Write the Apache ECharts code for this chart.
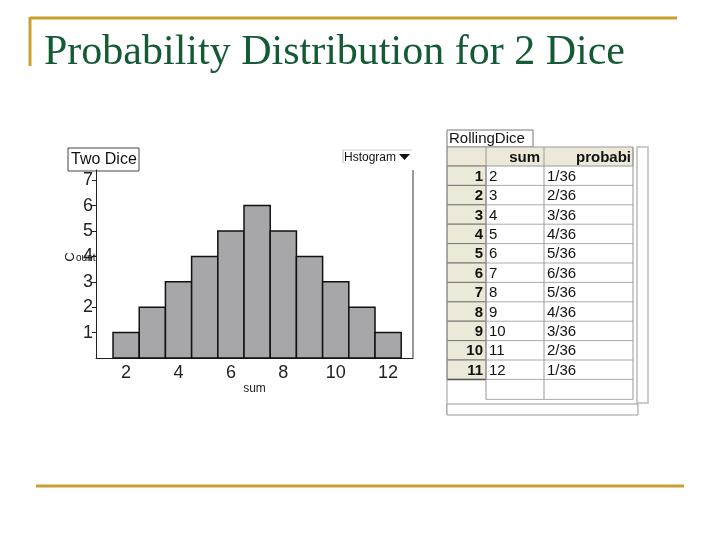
<!DOCTYPE html>
<html><head><meta charset="utf-8">
<script src="https://cdn.jsdelivr.net/npm/echarts@6/dist/echarts.min.js"></script>
<style>html,body{margin:0;padding:0;background:#fff}#c{width:720px;height:540px}</style>
</head><body><div id="c"></div>
<script>
// ---- data ----
const sums = [2, 3, 4, 5, 6, 7, 8, 9, 10, 11, 12];
const counts = [1, 2, 3, 4, 5, 6, 5, 4, 3, 2, 1];
const probs = ['1/36', '2/36', '3/36', '4/36', '5/36', '6/36', '5/36', '4/36', '3/36', '2/36', '1/36'];
const rowNumbers = [1, 2, 3, 4, 5, 6, 7, 8, 9, 10, 11];
const xTickLabels = [2, 4, 6, 8, 10, 12];
const yTickLabels = [1, 2, 3, 4, 5, 6, 7];
const titleText = 'Probability Distribution for 2 Dice';
const chartName = 'Two Dice';
const tableName = 'RollingDice';
const colHeaders = ['sum', 'probabi'];

// ---- styles ----
const SANS = 'Liberation Sans, Arial, sans-serif';
const GOLD = '#c9a030';
const chart = echarts.init(document.getElementById('c'));

function txt(x, y, text, font, align, vAlign, extra) {
  return Object.assign({type: 'text', x: x, y: y, z: 10,
    style: {text: text, font: font, fill: '#111', align: align || 'left', verticalAlign: vAlign || 'middle'}}, extra || {});
}

const g = [];
// slide decorations
g.push({type:'line', shape:{x1:30, y1:18, x2:677, y2:18}, style:{stroke:GOLD, lineWidth:3}});
g.push({type:'line', shape:{x1:30, y1:17, x2:30, y2:66}, style:{stroke:GOLD, lineWidth:3}});
g.push({type:'line', shape:{x1:36, y1:486, x2:684, y2:486}, style:{stroke:GOLD, lineWidth:3}});
g.push({type:'text', x:44, y:74, style:{text:titleText, font:'42px "Liberation Serif", "Times New Roman", serif', fill:'#145a34', align:'left', verticalAlign:'bottom'}});

// histogram decorations
g.push({type:'rect', shape:{x:68, y:148, width:71, height:23}, style:{fill:'#fff', stroke:'#444', lineWidth:1}});
g.push(txt(71, 160, chartName, '16px ' + SANS));
g.push({type:'line', shape:{x1:343, y1:150, x2:412, y2:150}, style:{stroke:'#ccc', lineWidth:1}});
g.push({type:'line', shape:{x1:343, y1:150, x2:343, y2:163}, style:{stroke:'#bbb', lineWidth:1}});
g.push(txt(344, 158, 'Hstogram', '12px ' + SANS));
g.push({type:'polygon', shape:{points:[[399,154],[410,154],[404.5,160]]}, style:{fill:'#111'}});
g.push({type:'line', shape:{x1:413, y1:170, x2:413, y2:358}, style:{stroke:'#333', lineWidth:1}});
g.push(txt(70, 257, 'C', '13px ' + SANS, 'center', 'middle', {rotation: Math.PI / 2}));
g.push(txt(76, 258, 'ount', '10px ' + SANS));

// table
const TX = 447, COL1 = 486, COL2 = 544, COL3 = 633;
const HEAD_T = 147, HEAD_B = 166, ROW_H = 19.4;
const tableBottom = HEAD_B + ROW_H * rowNumbers.length;
// side panel
g.push({type:'rect', shape:{x:637, y:HEAD_T, width:11, height:256}, style:{fill:'#fff', stroke:'#bbb', lineWidth:1.5}});
// tab
g.push({type:'rect', shape:{x:TX, y:130, width:86, height:17}, style:{fill:'#fff', stroke:'#777', lineWidth:1}});
g.push(txt(449, 139, tableName, '15px ' + SANS));
// header row
g.push({type:'rect', shape:{x:TX, y:HEAD_T, width:COL3 - TX, height:HEAD_B - HEAD_T}, style:{fill:'#ece9d8', stroke:'#999', lineWidth:1}});
g.push(txt(COL2 - 4, (HEAD_T + HEAD_B) / 2 + 1, colHeaders[0], 'bold 15px ' + SANS, 'right'));
g.push(txt(COL3 - 2, (HEAD_T + HEAD_B) / 2 + 1, colHeaders[1], 'bold 15px ' + SANS, 'right'));
// rows
rowNumbers.forEach((n, i) => {
  const y0 = HEAD_B + i * ROW_H;
  const cy = y0 + ROW_H / 2 + 1;
  g.push({type:'rect', shape:{x:TX, y:y0, width:COL1 - TX, height:ROW_H}, style:{fill:'#ece9d8', stroke:'#777', lineWidth:1}});
  g.push({type:'line', shape:{x1:COL1, y1:y0 + ROW_H, x2:COL3, y2:y0 + ROW_H}, style:{stroke:'#aaa', lineWidth:1}});
  g.push(txt(COL1 - 3, cy, String(n), 'bold 15px ' + SANS, 'right'));
  g.push(txt(COL1 + 3, cy, String(sums[i]), '15px ' + SANS));
  g.push(txt(COL2 + 3, cy, probs[i], '15px ' + SANS));
});
// empty row and lines
g.push({type:'line', shape:{x1:TX, y1:tableBottom, x2:COL1, y2:tableBottom}, style:{stroke:'#555', lineWidth:1.5}});
g.push({type:'line', shape:{x1:COL1, y1:tableBottom + 20, x2:COL3, y2:tableBottom + 20}, style:{stroke:'#aaa', lineWidth:1}});
[COL1, COL2, COL3].forEach(x => {
  g.push({type:'line', shape:{x1:x, y1:HEAD_T, x2:x, y2:tableBottom + 20}, style:{stroke:'#999', lineWidth:1}});
});
g.push({type:'line', shape:{x1:TX, y1:HEAD_T, x2:TX, y2:415}, style:{stroke:'#999', lineWidth:1}});
g.push({type:'rect', shape:{x:TX, y:404, width:191, height:11}, style:{fill:'#fff', stroke:'#999', lineWidth:1}});

const option = {
  backgroundColor: '#fff',
  animation: false,
  grid: {left: 96, right: 307, top: 170, bottom: 182},
  xAxis: {
    type: 'value', min: 0.85, max: 12.95,
    name: 'sum', nameLocation: 'middle', nameGap: 22,
    nameTextStyle: {fontFamily: SANS, fontSize: 12, color: '#222'},
    axisLine: {lineStyle: {color: '#222', width: 1}},
    axisTick: {show: false},
    splitLine: {show: false},
    axisLabel: {customValues: xTickLabels, fontFamily: SANS, fontSize: 18, color: '#222', margin: 6}
  },
  yAxis: {
    type: 'value', min: 0, max: 7.4,
    axisLine: {show: true, lineStyle: {color: '#222', width: 1}},
    axisTick: {show: true, customValues: yTickLabels, length: 4, lineStyle: {color: '#222'}},
    splitLine: {show: false},
    axisLabel: {customValues: yTickLabels, fontFamily: SANS, fontSize: 18, color: '#222', margin: 3}
  },
  series: [{
    type: 'custom',
    data: sums.map((s, i) => [s, counts[i]]),
    renderItem: (params, api) => {
      const x = api.value(0), c = api.value(1);
      const p0 = api.coord([x - 0.5, c]);
      const p1 = api.coord([x + 0.5, 0]);
      return {type: 'rect', shape: {x: p0[0], y: p0[1], width: p1[0] - p0[0], height: p1[1] - p0[1]},
        style: {fill: '#a7a7a9', stroke: '#111', lineWidth: 1.5}};
    }
  }],
  graphic: g
};
chart.setOption(option);
</script></body></html>
